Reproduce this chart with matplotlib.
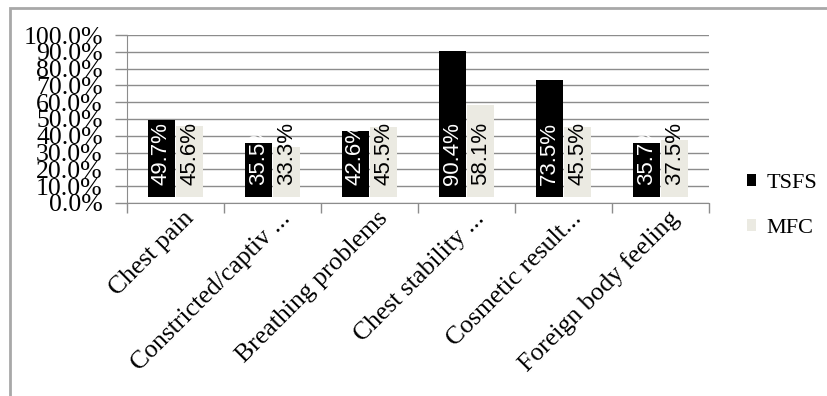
import numpy as np
import matplotlib
matplotlib.use('Agg')
import matplotlib.pyplot as plt
import matplotlib.transforms as mtransforms
from matplotlib.patches import Rectangle

categories = ['Chest pain', 'Constricted/captiv ...', 'Breathing problems',
              'Chest stability ...', 'Cosmetic result...', 'Foreign body feeling']
tsfs = [49.7, 35.5, 42.6, 90.4, 73.5, 35.7]
mfc = [45.6, 33.3, 45.5, 58.1, 45.5, 37.5]
series_names = ['TSFS', 'MFC']
y_ticks = [0, 10, 20, 30, 40, 50, 60, 70, 80, 90, 100]

serif = 'Liberation Serif'
sans = 'Liberation Sans'
light = '#ebeae2'
floor = 3.5  # excel 3d floor under the bars

fig = plt.figure(figsize=(8.27, 3.96), dpi=100)
ax = fig.add_axes([0.1536, 0.4874, 0.7037, 0.4242])

# outer chart frame (only top and left edges visible in the picture)
fig.patches.append(Rectangle((10 / 827, -0.1), 1.2, 1 - 8 / 396 + 0.1,
                             transform=fig.transFigure, fill=False,
                             edgecolor='#a8a8a8', linewidth=2))

x = np.arange(len(categories))
w = 0.27
h1 = ax.bar(x - 0.145, np.array(tsfs) - floor, w, bottom=floor, color='black', zorder=3)
h2 = ax.bar(x + 0.145, np.array(mfc) - floor, w, bottom=floor, color=light, zorder=3)

for xi, v in zip(x, tsfs):
    ax.text(xi - 0.145, 10.5, f'{v}%', rotation=90, ha='center', va='bottom',
            color='white', fontsize=16, family=sans, zorder=4)
for xi, v in zip(x, mfc):
    ax.text(xi + 0.145, 10.5, f'{v}%', rotation=90, ha='center', va='bottom',
            color='black', fontsize=16, family=sans, zorder=4)

ax.set_ylim(0, 100)
ax.set_xlim(-0.5, len(categories) - 0.5)
ax.set_yticks(y_ticks)
ax.set_yticklabels([f'{t:.1f}%' for t in y_ticks], family=serif, fontsize=18.5)
ax.tick_params(axis='y', length=9, color='#8c8c8c', pad=8.5, width=1)
ax.yaxis.grid(True, color='#8c8c8c', linewidth=1)
ax.set_axisbelow(True)

ax.set_xticks(x)
ax.set_xticklabels(categories, rotation=45, ha='right', rotation_mode='anchor',
                   family=serif, fontsize=18.5)
ax.tick_params(axis='x', which='major', length=0, pad=3)
shift = mtransforms.ScaledTranslation(0.07, 0, fig.dpi_scale_trans)
for lbl in ax.get_xticklabels():
    lbl.set_transform(lbl.get_transform() + shift)
ax.set_xticks(np.arange(len(categories) + 1) - 0.5, minor=True)
ax.tick_params(axis='x', which='minor', length=7, color='#8c8c8c', width=1)

for s in ['top', 'right']:
    ax.spines[s].set_visible(False)
ax.spines['left'].set_color('#8c8c8c')
ax.spines['bottom'].set_color('#8c8c8c')

fig.legend([h1, h2], series_names, loc='center left', bbox_to_anchor=(0.903, 0.48),
           frameon=False, borderpad=0, borderaxespad=0, handlelength=0.42,
           handleheight=0.42, handletextpad=0.45, labelspacing=1.15,
           prop={'family': serif, 'size': 16})

fig.savefig('out.png', dpi=100)
